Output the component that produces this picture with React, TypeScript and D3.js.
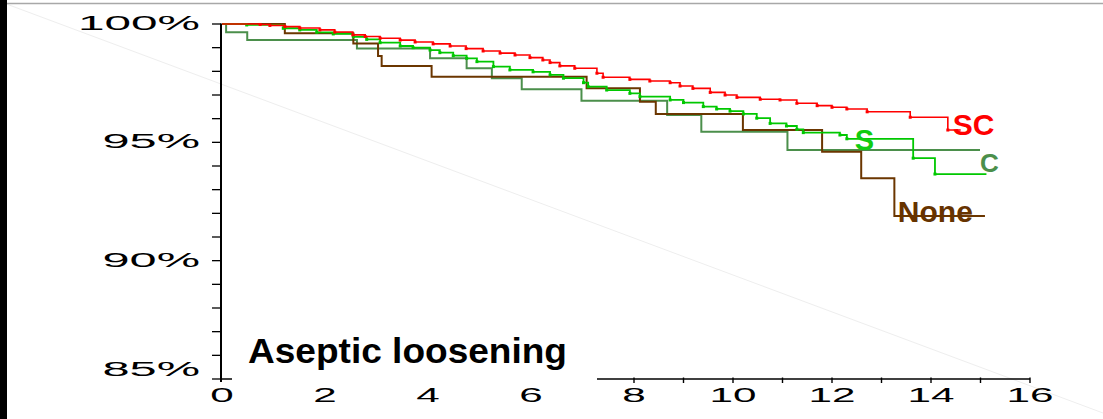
import React from "react";
import * as d3 from "d3";

const W = 1103;
const H = 419;

// Tick values
const yMajorTicks = [85, 90, 95, 100];
const yMinorTicks = [85, 86, 87, 88, 89, 90, 91, 92, 93, 94, 95, 96, 97, 98, 99, 100];
const xLabelTicks = [0, 2, 4, 6, 8, 10, 12, 14, 16];
const xRightTicks = [8, 9, 10, 11, 12, 13, 14, 15, 16];

// Series: SC
const scTime = [0, 0.74, 0.93, 1.22, 1.51, 1.9, 2.19, 2.54, 2.78, 3.07, 3.46, 3.75, 4.1, 4.43, 4.74, 5.07, 5.4, 5.69, 5.98, 6.23, 6.37, 6.56, 6.85, 7.28, 7.4, 7.92, 8.32, 8.73, 8.93, 9.19, 9.54, 9.84, 10.08, 10.55, 10.95, 11.29, 11.7, 12.0, 12.3, 12.71, 13.58, 14.34];
const scSurv = [100, 99.98, 99.94, 99.89, 99.83, 99.75, 99.66, 99.54, 99.47, 99.4, 99.32, 99.24, 99.16, 99.07, 98.96, 98.86, 98.77, 98.69, 98.58, 98.48, 98.37, 98.23, 98.13, 97.92, 97.75, 97.66, 97.59, 97.52, 97.38, 97.28, 97.11, 97.0, 96.9, 96.82, 96.79, 96.65, 96.55, 96.48, 96.41, 96.29, 96.06, 95.52];
const scEnd = 14.6;

// Series: S
const sTime = [0, 0.48, 1.19, 1.51, 1.84, 2.16, 2.55, 2.81, 3.07, 3.46, 3.71, 4.04, 4.23, 4.49, 4.75, 4.95, 5.27, 5.59, 6.04, 6.37, 6.63, 7.02, 7.11, 7.47, 7.92, 8.12, 8.73, 9.0, 9.4, 9.67, 9.94, 10.21, 10.48, 10.75, 11.08, 11.29, 11.42, 12.16, 12.3, 13.64, 14.08];
const sSurv = [100, 99.96, 99.82, 99.75, 99.65, 99.58, 99.46, 99.35, 99.21, 99.07, 99.0, 98.9, 98.79, 98.66, 98.55, 98.41, 98.2, 98.06, 97.98, 97.85, 97.71, 97.52, 97.35, 97.21, 97.07, 96.93, 96.79, 96.68, 96.51, 96.41, 96.32, 96.2, 96.02, 95.8, 95.69, 95.55, 95.41, 95.31, 95.15, 94.33, 93.66];
const sEnd = 15.12;

// Series: C
const cTime = [0, 0.08, 0.49, 2.62, 4.04, 4.75, 5.24, 5.82, 6.98, 8.67, 9.36, 11.1];
const cSurv = [100, 99.65, 99.32, 98.97, 98.55, 98.13, 97.71, 97.24, 96.76, 96.16, 95.45, 94.68];
const cEnd = 14.99;

// Series: None
const nTime = [0, 1.22, 2.55, 3.03, 3.1, 4.07, 7.08, 8.12, 8.44, 10.2, 11.8, 12.59, 13.26];
const nSurv = [100, 99.61, 99.18, 98.65, 98.23, 97.77, 97.28, 96.72, 96.2, 95.52, 94.6, 93.48, 91.89];
const nEnd = 15.09;

// Label anchors (data units)
const seriesNames = ["C", "None", "S", "SC"];
const labelT = [14.99, 13.33, 12.46, 14.44];
const labelP = [93.76, 91.62, 94.68, 95.31];

const title = "Aseptic loosening";

const FONT = "'Liberation Sans', Arial, Helvetica, sans-serif";

export default function App() {
  const x = d3.scaleLinear().domain([0, 8, 16]).range([222, 634, 1030]);
  const y = d3.scaleLinear().domain([85, 100]).range([379, 24]);

  const series = [
    { name: "C", t: cTime, p: cSurv, end: cEnd, color: "#4b8f4b", w: 2, marks: false },
    { name: "None", t: nTime, p: nSurv, end: nEnd, color: "#6b3600", w: 2, marks: false },
    { name: "S", t: sTime, p: sSurv, end: sEnd, color: "#00c800", w: 1.8, marks: true },
    { name: "SC", t: scTime, p: scSurv, end: scEnd, color: "#ff0000", w: 1.6, marks: true },
  ];
  const labelColors: Record<string, string> = {
    C: "#4b8f4b",
    None: "#663300",
    S: "#11cc11",
    SC: "#ff0000",
  };
  const labelSize: Record<string, number> = { C: 26, None: 30, S: 29, SC: 30 };

  const line = d3
    .line<[number, number]>()
    .x((d) => x(d[0]))
    .y((d) => y(d[1]))
    .curve(d3.curveStepAfter);

  const axisX = x(0) - 1;
  const axisY = y(85);

  return (
    <div style={{ position: "fixed", left: 0, top: 0 }}>
      <svg width={W} height={H} style={{ display: "block", background: "#fff" }}>
        <rect x={0} y={0} width={W} height={H} fill="#fff" />
        {/* faint diagonal artifact */}
        <line x1={0} y1={1.6} x2={W} y2={413} stroke="#eeeeee" strokeWidth={1} />
        {/* top gray rule */}
        <line x1={7} y1={3.5} x2={W} y2={3.5} stroke="#a8a8a8" strokeWidth={1.5} />
        {/* left black bar */}
        <rect x={0} y={0} width={7} height={H} fill="#000" />

        {/* curves */}
        {series.map((s) => {
          const pts: [number, number][] = s.t.map((t, i) => [t, s.p[i]]);
          pts.push([s.end, s.p[s.p.length - 1]]);
          return (
            <g key={s.name}>
              <path
                d={line(pts) || ""}
                fill="none"
                stroke={s.color}
                strokeWidth={s.w}
                strokeLinejoin="miter"
              />
              {s.marks &&
                s.t.slice(1).map((t, i) => (
                  <rect
                    key={i}
                    x={x(t) - 1.5}
                    y={y(s.p[i + 1]) - 1.5}
                    width={3}
                    height={3}
                    fill={s.color}
                  />
                ))}
            </g>
          );
        })}

        {/* Y axis */}
        <line x1={axisX} y1={y(100) - 0.5} x2={axisX} y2={axisY + 3} stroke="#000" strokeWidth={2} />
        {yMinorTicks.map((v) => (
          <line key={"yt" + v} x1={axisX - 9} x2={axisX} y1={y(v)} y2={y(v)} stroke="#000" strokeWidth={1.3} />
        ))}
        {yMajorTicks.map((v) => {
          const lbl = v + "%";
          const off = v === 85 ? -3 : 6;
          return (
            <text
              key={"yl" + v}
              x={200}
              y={y(v) + off}
              textAnchor="end"
              fontFamily={FONT}
              fontSize={19.5}
              textLength={24.5 * lbl.length + 24}
              lengthAdjust="spacingAndGlyphs"
              fill="#000"
            >
              {lbl}
            </text>
          );
        })}

        {/* X axis: left stub and right segment */}
        <line x1={axisX} x2={232} y1={axisY} y2={axisY} stroke="#000" strokeWidth={1.5} />
        <line x1={597} x2={x(16)} y1={axisY} y2={axisY} stroke="#000" strokeWidth={1.4} />
        {xRightTicks.map((v) => (
          <line key={"xt" + v} x1={x(v)} x2={x(v)} y1={axisY - 1.5} y2={axisY + 4} stroke="#000" strokeWidth={1.4} />
        ))}
        {xLabelTicks.map((v) => {
          const lbl = String(v);
          return (
            <text
              key={"xl" + v}
              x={x(v)}
              y={402}
              textAnchor="middle"
              fontFamily={FONT}
              fontSize={19.5}
              textLength={23.5 * lbl.length}
              lengthAdjust="spacingAndGlyphs"
              fill="#000"
            >
              {lbl}
            </text>
          );
        })}

        {/* Title */}
        <text
          x={248}
          y={363}
          fontFamily={FONT}
          fontWeight="bold"
          fontSize={35}
          textLength={319}
          lengthAdjust="spacingAndGlyphs"
          fill="#000"
        >
          {title}
        </text>

        {/* Series labels */}
        {seriesNames.map((n, i) => (
          <text
            key={"lab" + n}
            x={x(labelT[i])}
            y={y(labelP[i])}
            fontFamily={FONT}
            fontWeight="bold"
            fontSize={labelSize[n]}
            fill={labelColors[n]}
          >
            {n}
          </text>
        ))}
      </svg>
    </div>
  );
}
